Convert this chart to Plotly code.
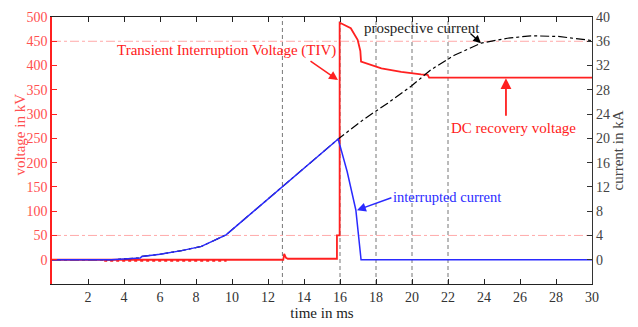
import plotly.graph_objects as go

# ---- data ----
# interrupted current, kA
i_t = [0, 3.3, 4.9, 5.0, 6.0, 7.2, 8.3, 8.8, 9.67, 15.9, 16.4, 16.88, 17.17, 30]
i_v = [0, 0, 0.3, 0.55, 0.9, 1.5, 2.2, 2.9, 4.1, 19.9, 14.5, 8.2, 0, 0]

# prospective current, kA
p_t = [0, 3.3, 4.9, 5.0, 6.0, 7.2, 8.3, 8.8, 9.67, 15.9, 17.35, 18.65, 19.95, 21.05, 22.35, 23.85, 25.3, 26.6, 28.1, 29.8, 30]
p_v = [0, 0, 0.3, 0.55, 0.9, 1.5, 2.2, 2.9, 4.1, 19.9, 23.2, 25.8, 28.6, 31.3, 33.7, 35.7, 36.5, 36.9, 36.8, 36.2, 36.1]

# voltage, kV
v_t = [0, 12.85, 12.9, 13.0, 13.1, 15.83, 15.83, 15.98, 15.98, 16.05, 16.6, 16.98, 17.13, 17.17, 18.3, 19.4, 20.5, 20.87, 20.95, 30]
v_v = [0, 0, 12, 4, 2, 2, 50, 50, 488, 487, 477, 453, 430, 408, 394, 387, 382, 381, 375, 375]

# small negative noise on the voltage trace, kV
n_t = [2.9, 9.7]
n_v = [-2, -2]

x_ticks = list(range(2, 31, 2))
kv_ticks = list(range(0, 501, 50))
ka_ticks = list(range(0, 41, 4))
vlines = [12.8, 16, 18, 20, 22]
hlines_kv = [450, 50]

RED = "#ff2020"
BLUE = "#2a2aff"
FONT = "Liberation Serif"

fig = go.Figure()

fig.add_trace(go.Scatter(x=p_t, y=p_v, yaxis="y2", mode="lines",
                         line=dict(color="black", width=1.2, dash="dashdot"), showlegend=False))
fig.add_trace(go.Scatter(x=n_t, y=n_v, mode="lines",
                         line=dict(color=RED, width=2, dash="dot"), showlegend=False))
fig.add_trace(go.Scatter(x=v_t, y=v_v, mode="lines",
                         line=dict(color=RED, width=1.8), showlegend=False))
fig.add_trace(go.Scatter(x=i_t, y=i_v, yaxis="y2", mode="lines",
                         line=dict(color=BLUE, width=1.5), showlegend=False))

shapes = []
for xv in vlines:
    shapes.append(dict(type="line", xref="x", yref="paper", x0=xv, x1=xv, y0=0, y1=1,
                       line=dict(color="#777777", width=1, dash="4px,3px"), layer="below"))
for yv in hlines_kv:
    shapes.append(dict(type="line", xref="paper", yref="y", x0=0, x1=1, y0=yv, y1=yv,
                       line=dict(color="#ffaaaa", width=1, dash="dashdot"), layer="below"))

ann = [
    dict(x=9.67, y=432, xref="x", yref="y", text="Transient Interruption Voltage (TIV)",
         showarrow=False, font=dict(family=FONT, size=15, color=RED)),
    dict(x=15.89, y=370, xref="x", yref="y", text="", showarrow=True, ax=-29, ay=-20,
         arrowhead=2, arrowsize=1.2, arrowwidth=1.5, arrowcolor=RED),
    dict(x=20.58, y=477, xref="x", yref="y", text="prospective current",
         showarrow=False, font=dict(family=FONT, size=15, color="#222222")),
    dict(x=23.83, y=446, xref="x", yref="y", text="", showarrow=True, ax=-12, ay=-11,
         arrowhead=2, arrowsize=1.2, arrowwidth=1.3, arrowcolor="black"),
    dict(x=25.64, y=272, xref="x", yref="y", text="DC recovery voltage",
         showarrow=False, font=dict(family=FONT, size=15, color=RED)),
    dict(x=25.22, y=374, xref="x", yref="y", text="", showarrow=True, ax=0, ay=39,
         arrowhead=2, arrowsize=1.2, arrowwidth=1.8, arrowcolor=RED),
    dict(x=21.94, y=129, xref="x", yref="y", text="interrupted current",
         showarrow=False, font=dict(family=FONT, size=14.5, color=BLUE)),
    dict(x=16.94, y=102, xref="x", yref="y", text="", showarrow=True, ax=36, ay=-13,
         arrowhead=2, arrowsize=1.2, arrowwidth=1.5, arrowcolor=BLUE),
    dict(x=-0.059, y=0.56, xref="paper", yref="paper", text="voltage in kV", textangle=-90,
         showarrow=False, xanchor="center", yanchor="middle",
         font=dict(family=FONT, size=15, color="#ff5050")),
]

fig.update_layout(
    width=638, height=327,
    margin=dict(l=52, r=46, t=17, b=43),
    paper_bgcolor="white", plot_bgcolor="white",
    font=dict(family=FONT, size=14, color="#333333"),
    shapes=shapes, annotations=ann,
    xaxis=dict(range=[0, 30], tickvals=x_ticks, ticks="inside", ticklen=5,
               showline=True, linecolor="#222222", linewidth=1.2, mirror="ticks",
               tickcolor="#222222", showgrid=False, zeroline=False, automargin=False,
               title=dict(text="time in ms", font=dict(size=15, color="#222222"), standoff=2),
               tickfont=dict(size=14, color="#333333")),
    yaxis=dict(range=[-50, 500], tickvals=kv_ticks, ticks="inside", ticklen=5,
               showline=True, linecolor=RED, linewidth=1.5, tickcolor=RED,
               showgrid=False, zeroline=False, automargin=False,
               tickfont=dict(size=14, color="#ff5050")),
    yaxis2=dict(range=[-4, 40], tickvals=ka_ticks, ticks="inside", ticklen=5,
                overlaying="y", side="right", anchor="x", automargin=False,
                showline=True, linecolor="#333333", linewidth=1.2, tickcolor="#333333",
                showgrid=False, zeroline=False,
                title=dict(text="current in kA", font=dict(size=15, color="#444444"), standoff=0),
                tickfont=dict(size=14, color="#444444")),
)

fig.write_html("out.html", config={"displayModeBar": False},
               post_script="document.body.style.margin='0px';document.body.style.padding='0px';")
